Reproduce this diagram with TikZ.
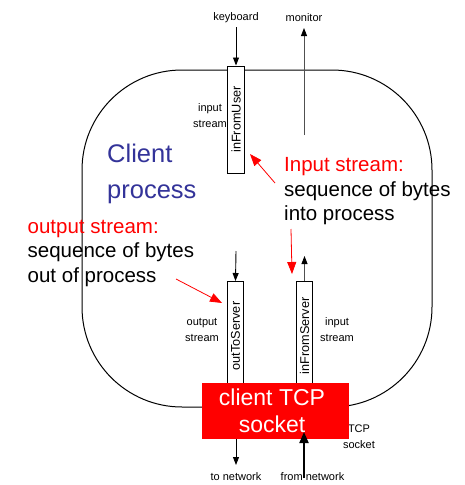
\documentclass[tikz,border=0pt]{standalone}
\usepackage{fontspec}
\setmainfont{Liberation Sans}
\usetikzlibrary{arrows.meta}
\definecolor{procblue}{RGB}{51,51,153}
\definecolor{linegray}{RGB}{80,80,80}
\tikzset{
  small/.style={font=\fontsize{11}{16}\selectfont, align=center, inner sep=0pt},
  streambox/.style={draw, fill=white, line width=1pt, rotate=90, inner sep=0pt,
    minimum height=16.5pt, font=\fontsize{12.7}{14}\selectfont},
  blk/.style={-{Triangle[length=8pt,width=6pt,color=black]}, line width=0.9pt},
  redarr/.style={red, line width=0.8pt, -{Triangle[length=12pt,width=9pt]}},
  big/.style={font=\fontsize{20.5}{24.5}\selectfont, align=left, inner sep=0pt, anchor=north west},
}
\begin{document}
\begin{tikzpicture}[x=1pt,y=-1pt]
\useasboundingbox (0,0) rectangle (464,485);
% process outline
\draw[line width=1pt, rounded corners=100pt] (82,70) rectangle (432,407);

% stream boxes
\node[streambox, minimum width=107pt] (ifu) at (236,119.5) {inFromUser};
\node[streambox, minimum width=109pt] (ots) at (235.5,336) {outToServer};
\node[streambox, minimum width=109pt] (ifs) at (304.5,336) {inFromServer};

% top labels and arrows
\node[small, anchor=base] (kb) at (236,20.7) {keyboard};
\node[small, anchor=base] (mon) at (304,21) {monitor};
\coordinate (kbo) at (236,27);
\draw[blk] (kbo) -- (ifu.east);
\coordinate (monend) at (304,135);
\coordinate (montip) at (304,28);
\draw[blk, draw=linegray] (monend) -- (montip);

% arrows into / out of socket-side boxes
\coordinate (otsin) at (236,251);
\draw[blk] (otsin) -- (ots.east);
\coordinate (ifsout) at (304.5,256);
\draw[blk, draw=linegray] (ifs.east) -- (ifsout);

% small labels
\node[small, anchor=north] (ifulbl) at (210,99.8) {\strut input\\stream};
\node[small, anchor=north] (otslbl) at (202,314.5) {\strut output\\stream};
\node[small, anchor=north] (ifslbl) at (337,314.5) {\strut input\\stream};
\node[small, anchor=north] (tcplbl) at (359,420.8) {\strut TCP\\socket};

% socket
\node[fill=red, minimum width=147pt, minimum height=56pt, inner sep=0pt] (sock) at (275.5,411) {};
\node[font=\fontsize{23}{27}\selectfont, text=white, align=center, inner sep=0pt, anchor=north] (socktxt) at (272,386.1) {\strut client TCP\\socket};

% network labels and arrows
\node[small, anchor=base] (tonet) at (236,480.5) {to network};
\node[small, anchor=base] (fromnet) at (312.5,480.5) {from network};
\coordinate (tonetend) at (236,465);
\draw[blk] (sock.south -| tonetend) -- (tonetend);
\coordinate (fnstart) at (304,478);
\coordinate (fnend) at (304,432);
\draw[line width=2pt, -{Triangle[length=11pt,width=9pt]}] (fnstart) -- (fnend);

% big texts
\node[font=\fontsize{25.5}{36}\selectfont, text=procblue, align=left, inner sep=0pt, anchor=north west] (cp) at (107,136.8) {\strut Client\\process};
\node[big] (instr) at (284,154.35) {\strut{\color{red}Input stream:}\\sequence of bytes\\into process};
\node[big] (outstr) at (27.5,215.85) {\strut{\color{red}output stream:}\\sequence of bytes\\out of process};

% red annotation arrows
\coordinate (a1s) at (275,183);
\coordinate (a1e) at (250,154);
\draw[redarr] (a1s) -- (a1e);
\coordinate (a2s) at (291,229);
\coordinate (a2e) at (292,274);
\draw[redarr] (a2s) -- (a2e);
\coordinate (a3s) at (176,279);
\coordinate (a3e) at (222,303);
\draw[redarr] (a3s) -- (a3e);
\end{tikzpicture}
\end{document}
